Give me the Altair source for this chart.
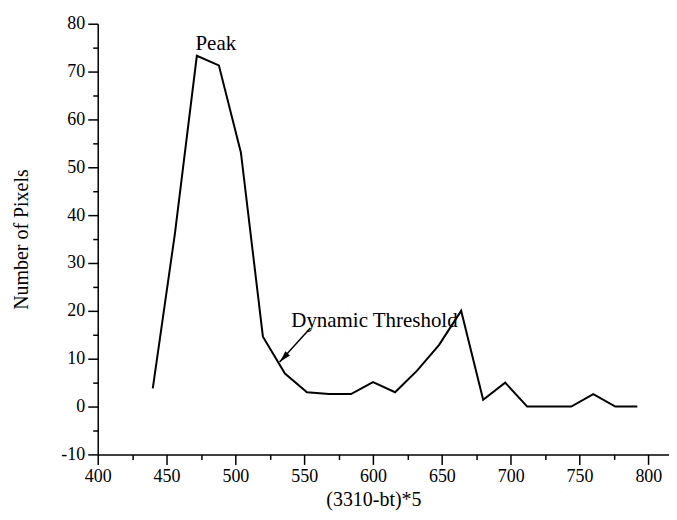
import altair as alt
import pandas as pd

# ---- data ----
x_vals = [440, 456, 472, 488, 504, 520, 536, 552, 568, 584, 600, 616,
          632, 648, 664, 680, 696, 712, 728, 744, 760, 776, 792]
counts = [3.8, 36.0, 73.3, 71.3, 53.1, 14.6, 6.9, 3.0, 2.6, 2.6, 5.1, 3.0,
          7.5, 12.9, 20.0, 1.4, 5.0, 0.0, 0.0, 0.0, 2.6, 0.0, 0.0]

x_major = [400, 450, 500, 550, 600, 650, 700, 750, 800]
x_minor = [425, 475, 525, 575, 625, 675, 725, 775]
y_major = [-10, 0, 10, 20, 30, 40, 50, 60, 70, 80]
y_minor = [-5, 5, 15, 25, 35, 45, 55, 65, 75]

ann_text = ["Peak", "Dynamic Threshold"]
ann_x = [471, 540.6]
ann_y = [74.5, 16.7]

arrow_x = [554.5]
arrow_y = [16.4]
arrow_x2 = [532.1]
arrow_y2 = [9.3]
head_x = [535.9]
head_y = [10.45]

FONT = "Liberation Serif"

df = pd.DataFrame({"x": x_vals, "y": counts})
ann = pd.DataFrame({"x": ann_x, "y": ann_y, "t": ann_text})
arr = pd.DataFrame({"x": arrow_x, "y": arrow_y, "x2": arrow_x2, "y2": arrow_y2})
head = pd.DataFrame({"x": head_x, "y": head_y})

xscale = alt.Scale(domain=[400, 815], nice=False, zero=False)
yscale = alt.Scale(domain=[-10, 80], nice=False, zero=False)

common = dict(domainColor="black", domainWidth=1.5, tickColor="black",
              tickWidth=1.5, grid=False, labelFlush=False, labelOverlap=False)

x_axis = alt.Axis(
    orient="bottom",
    values=x_major,
    title="(3310-bt)*5",
    labelExpr="'' + datum.value",
    tickSize=10,
    labelPadding=3,
    labelFont=FONT, labelFontSize=18, labelColor="black",
    titleFont=FONT, titleFontSize=20, titleFontWeight="normal", titleColor="black",
    titleX=276.5, titleY=45, titleBaseline="middle", titleAlign="center",
    **common,
)
y_axis = alt.Axis(
    orient="left",
    values=y_major,
    title="Number of Pixels",
    labelExpr="'' + datum.value",
    tickSize=10,
    labelPadding=3,
    labelFont=FONT, labelFontSize=18, labelColor="black",
    titleFont=FONT, titleFontSize=20, titleFontWeight="normal", titleColor="black",
    titleX=-76, titleY=216, titleBaseline="middle", titleAlign="center", titleAngle=-90,
    **common,
)
x_axis_minor = alt.Axis(orient="bottom", values=x_minor, tickSize=5, labels=False,
                        title=None, domain=False, tickColor="black", tickWidth=1.5,
                        grid=False)
y_axis_minor = alt.Axis(orient="left", values=y_minor, tickSize=5, labels=False,
                        title=None, domain=False, tickColor="black", tickWidth=1.5,
                        grid=False)

line = alt.Chart(df).mark_line(color="black", strokeWidth=2).encode(
    x=alt.X("x:Q", scale=xscale, axis=x_axis),
    y=alt.Y("y:Q", scale=yscale, axis=y_axis),
)

minor = alt.Chart(df).mark_point(opacity=0, size=1).encode(
    x=alt.X("x:Q", scale=xscale, axis=x_axis_minor),
    y=alt.Y("y:Q", scale=yscale, axis=y_axis_minor),
)

text = alt.Chart(ann).mark_text(
    font=FONT, fontSize=21, color="black", align="left", baseline="alphabetic"
).encode(
    x=alt.X("x:Q", scale=xscale, axis=None),
    y=alt.Y("y:Q", scale=yscale, axis=None),
    text="t:N",
)

rule = alt.Chart(arr).mark_rule(color="black", strokeWidth=1.5).encode(
    x=alt.X("x:Q", scale=xscale, axis=None),
    y=alt.Y("y:Q", scale=yscale, axis=None),
    x2="x2:Q",
    y2="y2:Q",
)

arrowhead = alt.Chart(head).mark_point(
    shape="M0,-1L0.45,0.6L-0.45,0.6Z", filled=True, color="black",
    opacity=1, size=200, angle=222.4, strokeWidth=0,
).encode(
    x=alt.X("x:Q", scale=xscale, axis=None),
    y=alt.Y("y:Q", scale=yscale, axis=None),
)

chart = alt.layer(line, minor, rule, arrowhead, text).resolve_axis(
    x="independent", y="independent"
).properties(
    width=573,
    height=432,
    padding={"left": 90, "top": 15, "right": 0, "bottom": 57},
    autosize=alt.AutoSizeParams(type="none"),
).configure_view(stroke=None)

chart.save("out.html", embed_options={"renderer": "svg", "actions": False})
